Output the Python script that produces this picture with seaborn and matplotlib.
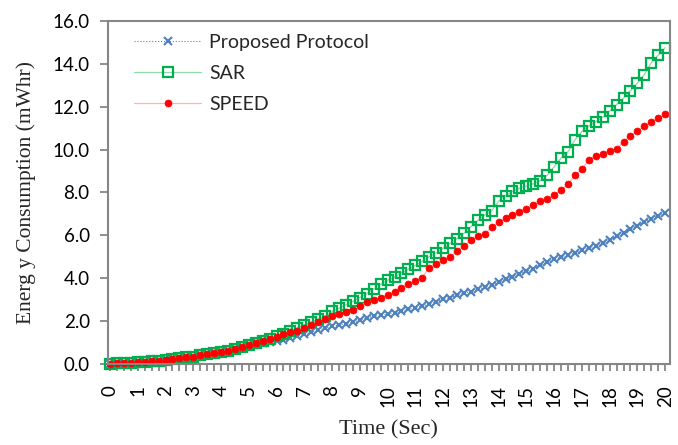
import numpy as np
import matplotlib
matplotlib.use("Agg")
import matplotlib.pyplot as plt
import seaborn as sns
from matplotlib.ticker import MultipleLocator

# time axis, 0.25 s steps
time_sec = np.arange(0, 20.01, 0.25)

# common start, 0 .. 5 s
start = [0.02, 0.03, 0.04, 0.06, 0.08, 0.10, 0.13, 0.16, 0.20, 0.23, 0.27,
         0.31, 0.35, 0.40, 0.45, 0.50, 0.56, 0.63, 0.71, 0.79, 0.87]

proposed = start + [
    0.92, 0.97, 1.02, 1.08, 1.14, 1.22, 1.32, 1.40, 1.48, 1.58, 1.68, 1.76,
    1.82, 1.88, 1.95, 2.05, 2.15, 2.22, 2.28, 2.33, 2.40, 2.47, 2.55, 2.62,
    2.70, 2.80, 2.90, 3.02, 3.10, 3.20, 3.30, 3.38, 3.48, 3.58, 3.70, 3.82,
    3.95, 4.08, 4.20, 4.32, 4.45, 4.60, 4.75, 4.88, 5.00, 5.08, 5.18, 5.30,
    5.42, 5.50, 5.62, 5.80, 5.95, 6.10, 6.30, 6.45, 6.62, 6.78, 6.92, 7.02]

sar = start + [
    0.96, 1.06, 1.17, 1.29, 1.41, 1.54, 1.68, 1.82, 1.95, 2.09, 2.23, 2.45,
    2.60, 2.76, 2.92, 3.10, 3.28, 3.50, 3.72, 3.90, 4.05, 4.25, 4.42, 4.60,
    4.80, 5.00, 5.18, 5.40, 5.62, 5.85, 6.10, 6.40, 6.70, 6.95, 7.15, 7.60,
    7.85, 8.05, 8.20, 8.30, 8.40, 8.55, 8.80, 9.20, 9.60, 9.90, 10.45, 10.85,
    11.10, 11.30, 11.50, 11.80, 12.10, 12.40, 12.75, 13.10, 13.50, 14.05, 14.40, 14.75]

speed = start + [
    0.96, 1.06, 1.17, 1.28, 1.40, 1.48, 1.55, 1.68, 1.80, 1.95, 2.08, 2.25,
    2.35, 2.42, 2.50, 2.70, 2.90, 3.00, 3.10, 3.20, 3.35, 3.55, 3.72, 3.88,
    4.03, 4.50, 4.65, 4.85, 5.00, 5.25, 5.50, 5.78, 5.95, 6.05, 6.40, 6.60,
    6.80, 6.95, 7.10, 7.25, 7.40, 7.60, 7.70, 7.90, 8.10, 8.40, 8.80, 9.10,
    9.50, 9.70, 9.80, 9.95, 10.05, 10.35, 10.65, 10.85, 11.10, 11.30, 11.45, 11.65]

sns.set_style("white")
plt.rcParams['font.family'] = ['Lato', 'DejaVu Sans']

fig = plt.figure(figsize=(6.78, 4.45), dpi=100)
ax = fig.add_axes([0.159, 0.182, 0.829, 0.771])

sns.lineplot(x=time_sec, y=proposed, ax=ax, color='#4F81BD', linestyle=':', linewidth=0.8,
             marker='x', markersize=6, markeredgewidth=1.5, markeredgecolor='#4F81BD',
             label='Proposed Protocol', clip_on=False)
sns.lineplot(x=time_sec, y=sar, ax=ax, color='#8FDBA9', linewidth=0.9,
             marker='s', markersize=6.5, markerfacecolor='none', markeredgewidth=1.6,
             markeredgecolor='#00B050', label='SAR', clip_on=False)
sns.lineplot(x=time_sec, y=speed, ax=ax, color='#FFB3B3', linewidth=0.9,
             marker='o', markersize=5, markeredgewidth=0.5, markerfacecolor='#FF0000',
             markeredgecolor='#FF0000', label='SPEED', clip_on=False)

ax.set_xlim(-0.08, 20.17)
ax.set_ylim(0, 16)
ax.yaxis.set_major_locator(MultipleLocator(2))
ax.xaxis.set_major_locator(MultipleLocator(1))
ax.xaxis.set_minor_locator(MultipleLocator(0.25))
ax.set_yticklabels([f"{v:.1f}" for v in ax.get_yticks()])
ax.set_xticklabels([f"{int(v)}" for v in ax.get_xticks()], rotation=90)

for s in ax.spines.values():
    s.set_color('#868686')
    s.set_linewidth(1.5)
ax.tick_params(axis='both', which='both', direction='out', color='#868686', width=1.3,
               labelsize=13.5, colors='#868686', labelcolor='black')
ax.tick_params(axis='y', length=6, pad=7, left=True)
ax.tick_params(axis='x', which='both', length=5, pad=10, bottom=True)

ax.set_xlabel('Time (Sec)', family='Liberation Serif', fontsize=16, labelpad=10)
ax.set_ylabel('Energ y Consumption (mWhr)', family='Liberation Serif', fontsize=15.5, labelpad=12)

leg = ax.legend(loc='upper left', bbox_to_anchor=(0.025, 1.0), frameon=False,
                fontsize=14, handlelength=3.4, labelspacing=0.72, handletextpad=0.45,
                borderpad=0.15)

fig.savefig('out.png', dpi=100)
